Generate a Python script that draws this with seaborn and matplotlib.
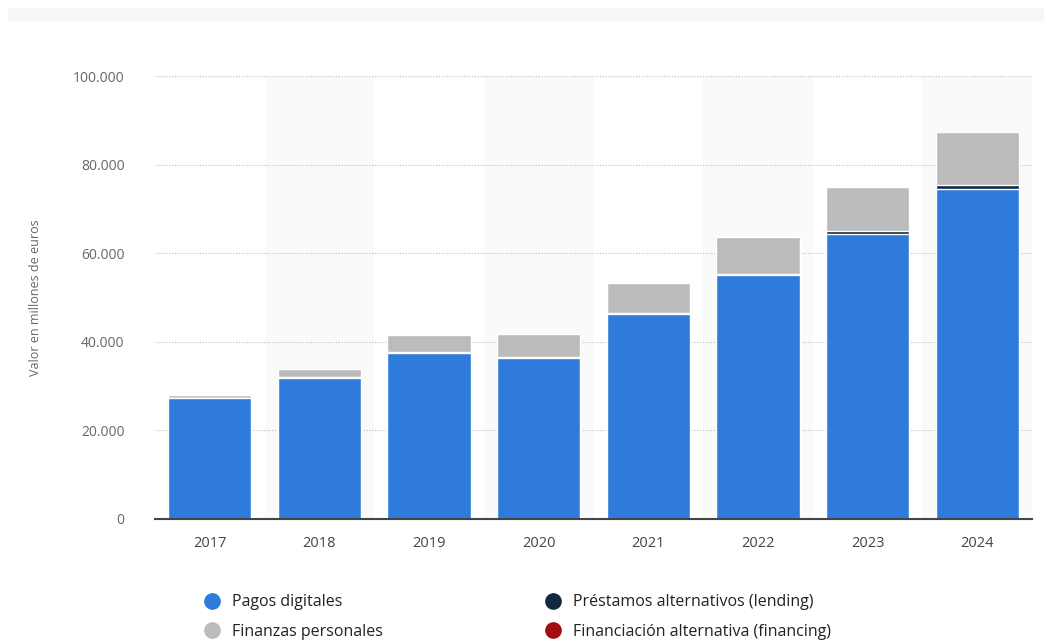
import matplotlib
matplotlib.use("Agg")
import matplotlib.pyplot as plt
from matplotlib.lines import Line2D
from matplotlib.patches import Rectangle
import seaborn as sns
import pandas as pd
import numpy as np

# Fintech transaction value in Spain, millions of euros
years = ["2017", "2018", "2019", "2020", "2021", "2022", "2023", "2024"]
pagos_digitales = [27300, 31800, 37400, 36400, 46300, 55000, 64400, 74600]
prestamos_alternativos = [100, 150, 200, 250, 300, 350, 550, 700]
finanzas_personales = [700, 2000, 4000, 5000, 6700, 8400, 10100, 12000]
financiacion_alternativa = [10, 10, 20, 20, 30, 30, 40, 40]

series_names = ["Pagos digitales", "Préstamos alternativos (lending)",
                "Finanzas personales", "Financiación alternativa (financing)"]
series_values = [pagos_digitales, prestamos_alternativos,
                 finanzas_personales, financiacion_alternativa]
series_colors = ["#2f7bdb", "#102840", "#bbbbbb", "#a10e0e"]

y_ticks = [0, 20000, 40000, 60000, 80000, 100000]
y_tick_labels = ["0", "20.000", "40.000", "60.000", "80.000", "100.000"]

sns.set_theme(style="white")
plt.rcParams["font.family"] = ["Open Sans", "DejaVu Sans"]

fig = plt.figure(figsize=(10.44, 6.41), dpi=100)
ax = fig.add_axes([155 / 1044, 1 - 519 / 641, 877 / 1044, 443 / 641])

# light header strip
fig.patches.append(Rectangle((8 / 1044, 1 - 20 / 641), 1, 12 / 641,
                             transform=fig.transFigure, color="#f5f6f7", zorder=0))

# alternating column shading
for i in range(1, len(years), 2):
    ax.axvspan(i - 0.5, i + 0.5, color="#fafafa", zorder=0, lw=0)

# stacked bars drawn as cumulative layers, tallest first
df = pd.DataFrame({"year": years})
cum = np.zeros(len(years))
layers = []
for name, vals, col in zip(series_names, series_values, series_colors):
    cum = cum + np.array(vals, dtype=float)
    layers.append((name, cum.copy(), col))

for name, total, col in reversed(layers):
    d = df.assign(value=total)
    sns.barplot(data=d, x="year", y="value", color=col, width=0.76,
                edgecolor="white", linewidth=1, saturation=1, ax=ax, zorder=3)

ax.set_xlim(-0.5, len(years) - 0.5)
ax.set_ylim(0, 100000)
ax.set_yticks(y_ticks)
ax.set_yticklabels(y_tick_labels)
ax.yaxis.grid(True, linestyle=(0, (1, 1.5)), color="#bdbdbd", linewidth=0.8, zorder=1)
ax.xaxis.grid(False)
for g in ax.get_ygridlines():
    g.set_clip_on(False)
for s in ["top", "right", "left"]:
    ax.spines[s].set_visible(False)
ax.spines["bottom"].set_color("#444444")
ax.spines["bottom"].set_linewidth(1.5)
ax.spines["bottom"].set_zorder(5)
ax.set_facecolor("none")

ax.tick_params(axis="y", length=0, pad=22, labelsize=10, labelcolor="#666666")
ax.tick_params(axis="x", length=0, pad=12, labelsize=10.5, labelcolor="#444444")
ax.set_xlabel("")
ax.set_ylabel("Valor en millones de euros", fontsize=9, color="#666666", labelpad=22)

handles = [Line2D([0], [0], marker="o", linestyle="", markersize=11,
                  markerfacecolor=c, markeredgecolor=c) for c in series_colors]
order = [0, 2, 1, 3]
fig.legend([handles[i] for i in order], [series_names[i] for i in order],
           ncol=2, loc="upper left", bbox_to_anchor=(182 / 1044, 1 - 580 / 641),
           frameon=False, fontsize=11.5, labelspacing=0.85, handletextpad=0.22,
           columnspacing=9.68, labelcolor="#222222")

fig.savefig("out.png", dpi=100, facecolor="white")
